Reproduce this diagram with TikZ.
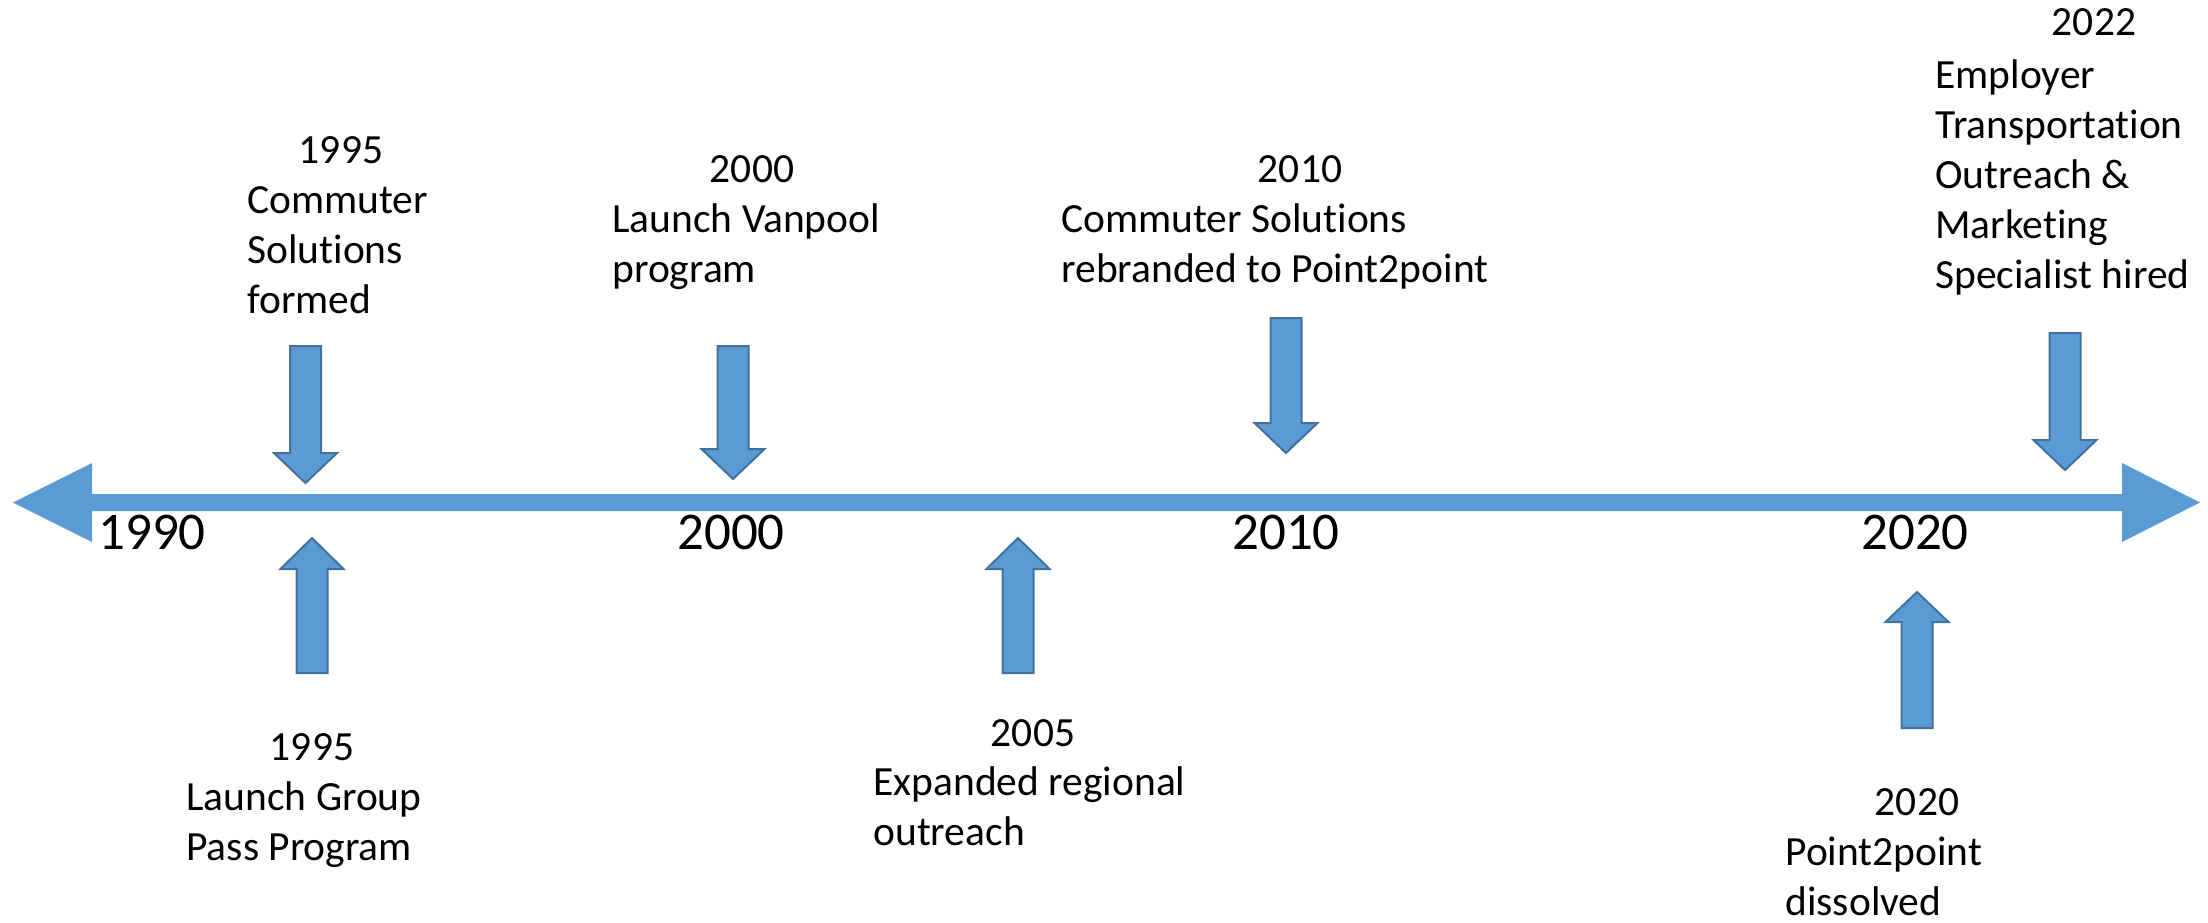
\documentclass[tikz,border=0pt]{standalone}
\usepackage{fontspec}
\setmainfont{Carlito}[Ligatures=NoCommon]
\definecolor{axisblue}{HTML}{5B9BD5}
\definecolor{edgeblue}{HTML}{41719C}
\tikzset{
  yearlabel/.style={anchor=base, inner sep=0pt, font=\fontsize{20.75}{25}\selectfont},
  desclabel/.style={anchor=base west, inner sep=0pt, font=\fontsize{20.75}{25}\selectfont},
  ticklabel/.style={anchor=base, inner sep=0pt, font=\fontsize{26.5}{32}\selectfont},
  blockarrow/.style={fill=axisblue, draw=edgeblue, line width=1pt, line join=miter}
}
\newcommand{\desctext}[1]{\begin{tabular}[t]{@{}l@{}}#1\end{tabular}}

\begin{document}
\begin{tikzpicture}[x=0.5pt, y=-0.5pt]
		\useasboundingbox (0,0) rectangle (2208,922);
		% time axis, pointing both ways
		\fill[axisblue] (13,502.5) -- (92,463) -- (92,494) -- (2122,494) -- (2122,463)
			-- (2200,502.5) -- (2122,542) -- (2122,511) -- (92,511) -- (92,542) -- cycle;
		% years on the axis
		\foreach \yr/\x in {1990/152, 2000/731, 2010/1286, 2020/1915}
		{
			\node[ticklabel] (tick\yr) at (\x,549) {\yr};
		}
		% block arrows: x / tail / head base / tip
		\foreach \x/\ya/\yh/\yb in {305.5/346/453/483, 312/673/569/538, 733/346/449/479,
			1018/673/569/538, 1286/318/423/453, 1917/728/622/592, 2065/333/440/470}
		{
			\draw[blockarrow] (\x-15.5,\ya) -- (\x+15.5,\ya) -- (\x+15.5,\yh) -- (\x+31.5,\yh)
				-- (\x,\yb) -- (\x-31.5,\yh) -- (\x-15.5,\yh) -- cycle;
		}
		% events above the axis
		\node[yearlabel] (yearA) at (341,163) {1995};
		\node[desclabel] (descA) at (247,213) {\desctext{Commuter\\Solutions\\formed}};
		\node[yearlabel] (yearC) at (752,182) {2000};
		\node[desclabel] (descC) at (612,232) {\desctext{Launch Vanpool\\program}};
		\node[yearlabel] (yearE) at (1300,182) {2010};
		\node[desclabel] (descE) at (1061,232) {\desctext{Commuter Solutions\\rebranded to Point2point}};
		\node[yearlabel] (yearG) at (2094,35) {2022};
		\node[desclabel] (descG) at (1935,88) {\desctext{Employer\\Transportation\\Outreach \&\\Marketing\\Specialist hired}};
		% events below the axis
		\node[yearlabel] (yearB) at (312,760) {1995};
		\node[desclabel] (descB) at (186,810) {\desctext{Launch Group\\Pass Program}};
		\node[yearlabel] (yearD) at (1033,746) {2005};
		\node[desclabel] (descD) at (873,795) {\desctext{Expanded regional\\outreach}};
		\node[yearlabel] (yearF) at (1917,815) {2020};
		\node[desclabel] (descF) at (1785,865) {\desctext{Point2point\\dissolved}};
	\end{tikzpicture}
\end{document}
